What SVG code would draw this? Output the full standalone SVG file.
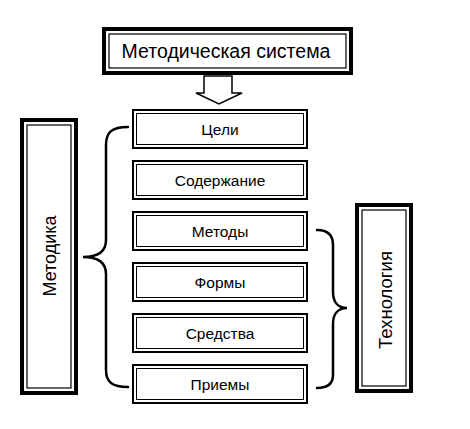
<svg xmlns="http://www.w3.org/2000/svg" width="470" height="429" viewBox="0 0 470 429">
<style>
.bo{fill:#fff;stroke:#000;stroke-width:4}
.bi{fill:none;stroke:#000;stroke-width:1.2}
.so{fill:#fff;stroke:#000;stroke-width:2}
.si{fill:none;stroke:#000;stroke-width:1}
.t{font-family:"Liberation Sans",Arial,sans-serif;fill:#000;text-anchor:middle;dominant-baseline:central}
.bx{font-size:15.5px}
.br{fill:none;stroke:#000;stroke-width:2.5;stroke-linecap:round}
</style>
<rect width="470" height="429" fill="#fff"/>
<g id="system">
<rect class="bo" x="104" y="29" width="247" height="44"/>
<rect class="bi" x="109" y="34" width="237" height="34"/>
<text class="t" x="226" y="51" font-size="19.5">Методическая система</text>
</g>
<g id="metodika">
<rect class="bo" x="22" y="120" width="54" height="273"/>
<rect class="bi" x="27" y="125" width="44" height="263"/>
<text class="t" font-size="18" transform="translate(50,256) rotate(-90)">Методика</text>
</g>
<g id="tehnologia">
<rect class="bo" x="357" y="205" width="54" height="186"/>
<rect class="bi" x="362" y="210" width="44" height="176"/>
<text class="t" font-size="18.5" transform="translate(385,300) rotate(-90)">Технология</text>
</g>
<g id="celi">
<rect class="so" x="133" y="110" width="174" height="38"/>
<rect class="si" x="136.5" y="113.5" width="167" height="31"/>
<text class="t bx" x="220" y="129">Цели</text>
</g>
<g id="soderzhanie">
<rect class="so" x="133" y="161" width="174" height="38"/>
<rect class="si" x="136.5" y="164.5" width="167" height="31"/>
<text class="t bx" x="220" y="180">Содержание</text>
</g>
<g id="metody">
<rect class="so" x="133" y="212" width="174" height="38"/>
<rect class="si" x="136.5" y="215.5" width="167" height="31"/>
<text class="t bx" x="220" y="231">Методы</text>
</g>
<g id="formy">
<rect class="so" x="133" y="263" width="174" height="38"/>
<rect class="si" x="136.5" y="266.5" width="167" height="31"/>
<text class="t bx" x="220" y="282">Формы</text>
</g>
<g id="sredstva">
<rect class="so" x="133" y="314" width="174" height="38"/>
<rect class="si" x="136.5" y="317.5" width="167" height="31"/>
<text class="t bx" x="220" y="333">Средства</text>
</g>
<g id="priemy">
<rect class="so" x="133" y="365" width="174" height="38"/>
<rect class="si" x="136.5" y="368.5" width="167" height="31"/>
<text class="t bx" x="220" y="384">Приемы</text>
</g>
<g id="connectors">
<path d="M204,76 L232,76 L232,93 L242,93 L219,104 L196,93 L204,93 Z" fill="#fff" stroke="#000" stroke-width="1.5" stroke-linejoin="miter"/>
<path class="br" d="M128,127 C112,127 106,132 106,145 L106,240 C106,252 98,257 83,257 C98,257 106,262 106,274 L106,370 C106,382 112,387 128,387"/>
<path class="br" d="M317,230 C328,230 333,235 333,245 L333,292 C333,302 338,308 347,308 C338,308 333,314 333,324 L333,375 C333,384 328,388 317,388"/>
</g>
</svg>
